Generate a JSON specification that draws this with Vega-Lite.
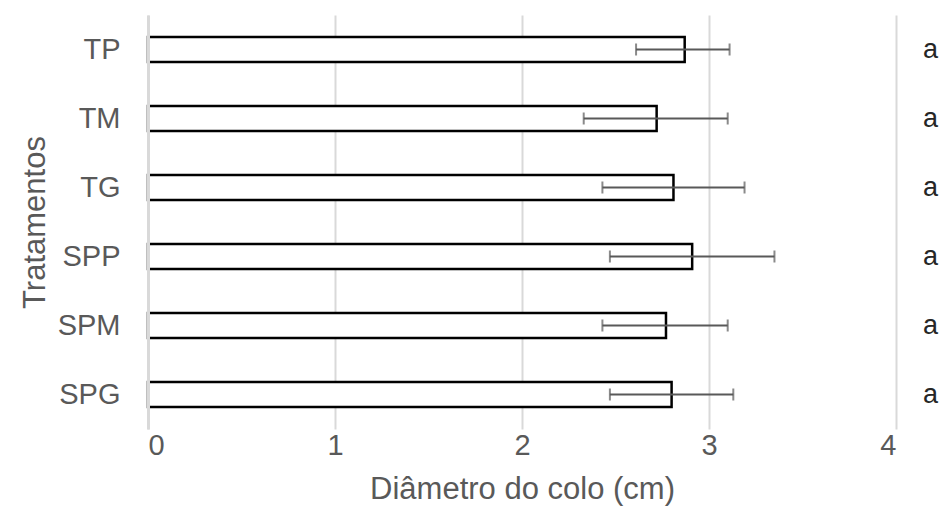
{
  "$schema": "https://vega.github.io/schema/vega-lite/v6.json",
  "width": 748,
  "height": 414,
  "autosize": {"type": "none"},
  "padding": {"left": 148, "top": 15, "right": 48, "bottom": 100},
  "background": "white",
  "config": {
    "view": {"stroke": null},
    "font": "Liberation Sans",
    "axis": {"labelFont": "Liberation Sans", "titleFont": "Liberation Sans", "labelColor": "#595959", "titleColor": "#595959", "titleFontWeight": "normal"}
  },
  "data": {
    "values": [
      {"cat": "TP", "mean": 2.87, "lo": 2.61, "hi": 3.11, "letter": "a", "lx": 4.145},
      {"cat": "TM", "mean": 2.72, "lo": 2.33, "hi": 3.10, "letter": "a", "lx": 4.145},
      {"cat": "TG", "mean": 2.81, "lo": 2.43, "hi": 3.19, "letter": "a", "lx": 4.145},
      {"cat": "SPP", "mean": 2.91, "lo": 2.47, "hi": 3.35, "letter": "a", "lx": 4.145},
      {"cat": "SPM", "mean": 2.77, "lo": 2.43, "hi": 3.10, "letter": "a", "lx": 4.145},
      {"cat": "SPG", "mean": 2.80, "lo": 2.47, "hi": 3.13, "letter": "a", "lx": 4.145}
    ]
  },
  "encoding": {
    "y": {
      "field": "cat", "type": "nominal", "sort": null,
      "scale": {"paddingInner": 0.64, "paddingOuter": 0.32},
      "axis": {
        "title": "Tratamentos", "titleFontSize": 31, "titlePadding": 6,
        "labelFontSize": 29, "labelPadding": 28, "ticks": false,
        "domain": true, "domainColor": "#d9d9d9", "domainWidth": 3, "zindex": 1
      }
    }
  },
  "layer": [
    {
      "mark": {"type": "bar", "fill": "white", "stroke": "black", "strokeWidth": 2.5},
      "encoding": {
        "x": {
          "field": "mean", "type": "quantitative",
          "scale": {"domain": [0, 4], "nice": false},
          "axis": {
            "title": "Diâmetro do colo (cm)", "titleFontSize": 31, "titlePadding": 14,
            "values": [0, 1, 2, 3, 4], "format": "d",
            "labelFontSize": 29, "labelPadding": 2, "ticks": false, "domain": false,
            "grid": true, "gridColor": "#d9d9d9", "gridWidth": 2
          }
        }
      }
    },
    {
      "mark": {"type": "rule", "color": "#595959", "strokeWidth": 2},
      "encoding": {
        "x": {"field": "lo", "type": "quantitative"},
        "x2": {"field": "hi"}
      }
    },
    {
      "mark": {"type": "tick", "color": "#595959", "thickness": 2, "size": 12},
      "encoding": {"x": {"field": "lo", "type": "quantitative"}}
    },
    {
      "mark": {"type": "tick", "color": "#595959", "thickness": 2, "size": 12},
      "encoding": {"x": {"field": "hi", "type": "quantitative"}}
    },
    {
      "mark": {"type": "text", "align": "left", "baseline": "middle", "fontSize": 27, "color": "#262626", "font": "Liberation Sans"},
      "encoding": {
        "x": {"field": "lx", "type": "quantitative"},
        "text": {"field": "letter"}
      }
    }
  ]
}
